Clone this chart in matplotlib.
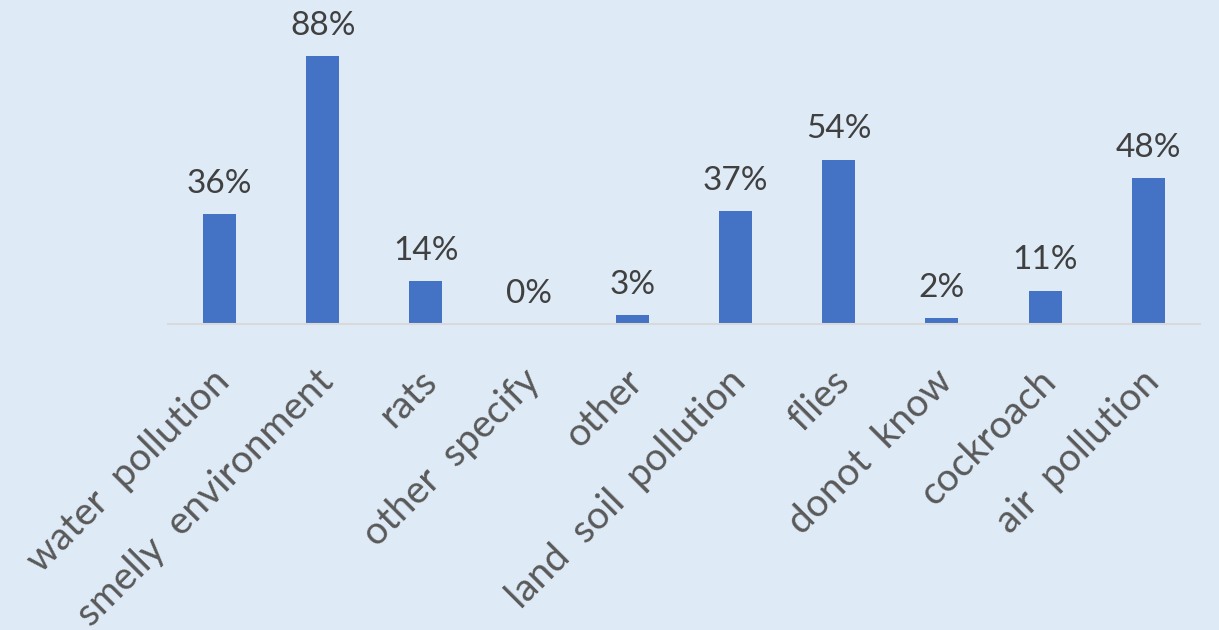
import numpy as np
import matplotlib.pyplot as plt
from matplotlib.transforms import ScaledTranslation

categories = ["water  pollution", "smelly  environment", "rats", "other  specify",
              "other", "land  soil  pollution", "flies", "donot  know",
              "cockroach", "air  pollution"]
values = [36, 88, 14, 0, 3, 37, 54, 2, 11, 48]
labels = ["36%", "88%", "14%", "0%", "3%", "37%", "54%", "2%", "11%", "48%"]

bg = "#DEEAF6"
bar_color = "#4472C4"

plt.rcParams['font.family'] = ['Lato', 'DejaVu Sans']

fig = plt.figure(figsize=(12.19, 6.3), dpi=100, facecolor=bg)
ax = fig.add_axes([0.1378, 0.4857, 0.8466, 0.4833], facecolor=bg)

x = np.arange(len(categories))
bars = ax.bar(x, values, width=0.32, color=bar_color)

for b, lab in zip(bars, labels):
    ax.annotate(lab, (b.get_x() + b.get_width() / 2, b.get_height()),
                xytext=(0, 11), textcoords="offset points",
                ha="center", va="bottom", fontsize=24, color="#404040")

ax.set_xlim(-0.5, len(categories) - 0.5)
ax.set_ylim(0, 100)

ax.set_xticks(x)
ax.set_xticklabels(categories, rotation=45, ha="right", rotation_mode="anchor",
                   fontsize=28, color="#595959")
ax.tick_params(axis="x", length=0, pad=28)
ax.set_yticks([])

# nudge the slanted category labels a little to the left
shift = ScaledTranslation(-8 / 100, 0, fig.dpi_scale_trans)
for t in ax.get_xticklabels():
    t.set_transform(t.get_transform() + shift)

for side in ["top", "right", "left"]:
    ax.spines[side].set_visible(False)
ax.spines["bottom"].set_color("#D9D9D9")
ax.spines["bottom"].set_linewidth(1.5)

fig.savefig("out.png", dpi=100, facecolor=bg)
